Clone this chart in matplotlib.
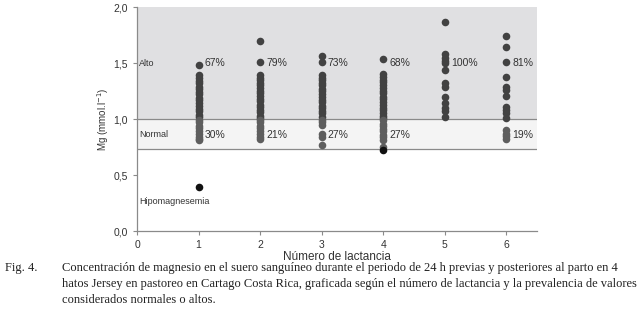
import matplotlib
matplotlib.use("Agg")
from matplotlib import pyplot as plt

plt.rcParams['font.family'] = ['Liberation Sans', 'DejaVu Sans']

# lactation number -> Mg values (mmol/l), split by category
alto = {
    1: [1.48, 1.39, 1.37, 1.34, 1.32, 1.29, 1.27, 1.24, 1.22, 1.19, 1.17, 1.14, 1.12, 1.09, 1.07, 1.04, 1.02],
    2: [1.70, 1.51, 1.39, 1.37, 1.35, 1.32, 1.30, 1.28, 1.25, 1.23, 1.21, 1.18, 1.16, 1.13, 1.11, 1.08, 1.06, 1.03, 1.01],
    3: [1.56, 1.51, 1.39, 1.37, 1.35, 1.32, 1.30, 1.27, 1.25, 1.22, 1.20, 1.17, 1.15, 1.12, 1.10, 1.07, 1.05, 1.02],
    4: [1.54, 1.40, 1.38, 1.35, 1.33, 1.30, 1.28, 1.25, 1.23, 1.20, 1.18, 1.15, 1.13, 1.10, 1.08, 1.05, 1.03, 1.01],
    5: [1.87, 1.58, 1.55, 1.52, 1.50, 1.44, 1.32, 1.29, 1.20, 1.14, 1.10, 1.07, 1.02],
    6: [1.74, 1.64, 1.51, 1.38, 1.29, 1.26, 1.21, 1.11, 1.08, 1.05, 1.01],
}
normal = {
    1: [0.99, 0.97, 0.94, 0.92, 0.89, 0.87, 0.84, 0.82, 0.81],
    2: [0.99, 0.97, 0.94, 0.92, 0.89, 0.87, 0.84, 0.82],
    3: [0.99, 0.97, 0.95, 0.87, 0.84, 0.77],
    4: [0.99, 0.96, 0.94, 0.91, 0.89, 0.86, 0.84, 0.81, 0.75],
    5: [],
    6: [0.90, 0.87, 0.85, 0.82],
}
hipo = {1: [0.39], 4: [0.72]}
pct_alto = ["67%", "79%", "73%", "68%", "100%", "81%"]
pct_normal = ["30%", "21%", "27%", "27%", "", "19%"]
lact = [1, 2, 3, 4, 5, 6]
y_ticks = [0.0, 0.5, 1.0, 1.5, 2.0]
low_limit = 0.73
high_limit = 1.0

fig = plt.figure(figsize=(6.39, 3.24), dpi=100)
ax = fig.add_axes([0.2144, 0.287, 0.626, 0.691])

ax.axhspan(high_limit, 2.0, color='#e0e0e2', zorder=0, lw=0)
ax.axhspan(low_limit, high_limit, color='#f4f4f4', zorder=0, lw=0)
ax.axhline(high_limit, color='#8a8a8a', lw=0.9, zorder=1)
ax.axhline(low_limit, color='#8a8a8a', lw=0.9, zorder=1)

for i, n in enumerate(lact):
    ax.scatter([n] * len(alto[n]), alto[n], s=30, color='#424242', zorder=3, lw=0)
    ax.scatter([n] * len(normal[n]), normal[n], s=30, color='#5e5e5e', zorder=3, lw=0)
    if n in hipo:
        ax.scatter([n] * len(hipo[n]), hipo[n], s=30, color='#111111', zorder=3, lw=0)
    ax.text(n + 0.1, 1.5, pct_alto[i], fontsize=7.5, color='#333333', va='center')
    if pct_normal[i]:
        ax.text(n + 0.1, 0.86, pct_normal[i], fontsize=7.5, color='#333333', va='center')

ax.text(0.04, 1.5, "Alto", fontsize=6.5, color='#333333', va='center')
ax.text(0.04, 0.86, "Normal", fontsize=6.5, color='#333333', va='center')
ax.text(0.04, 0.26, "Hipomagnesemia", fontsize=6.5, color='#333333', va='center')

ax.set_xlim(0, 6.5)
ax.set_ylim(0, 2.0)
ax.set_xticks([0, 1, 2, 3, 4, 5, 6])
ax.set_yticks(y_ticks)
ax.set_yticklabels([f"{v:.1f}".replace('.', ',') for v in y_ticks])
ax.tick_params(labelsize=7.5, labelcolor='#333333', length=3, width=0.8, color='#8a8a8a')
for s in ['top', 'right']:
    ax.spines[s].set_visible(False)
for s in ['left', 'bottom']:
    ax.spines[s].set_color('#8a8a8a')
    ax.spines[s].set_linewidth(0.9)
ax.set_xlabel("Número de lactancia", fontsize=8.5, color='#333333', labelpad=1)
ax.set_ylabel("Mg (mmol.l$^{-1}$)", fontsize=7, color='#333333', labelpad=2)

cap = dict(fontsize=9, family=['Liberation Serif', 'DejaVu Serif'], color='#222222')
fig.text(5 / 639, 1 - 268 / 324, "Fig. 4.", va='center', **cap)
fig.text(62 / 639, 1 - 268 / 324,
         "Concentración de magnesio en el suero sanguíneo durante el periodo de 24 h previas y posteriores al parto en 4",
         va='center', **cap)
fig.text(62 / 639, 1 - 284 / 324,
         "hatos Jersey en pastoreo en Cartago Costa Rica, graficada según el número de lactancia y la prevalencia de valores",
         va='center', **cap)
fig.text(62 / 639, 1 - 300 / 324, "considerados normales o altos.", va='center', **cap)

fig.savefig("out.png", dpi=100)
